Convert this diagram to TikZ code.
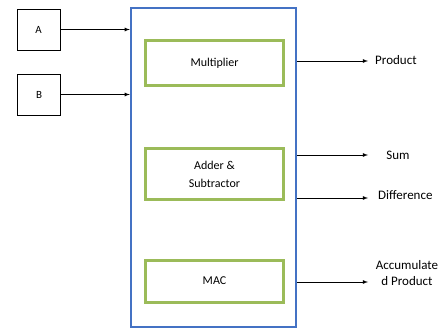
\documentclass[tikz,border=0pt]{standalone}
\usepackage{fontspec}
\setmainfont{Carlito}
\usetikzlibrary{positioning,arrows}
\definecolor{coreblue}{RGB}{68,114,196}
\definecolor{unitgreen}{RGB}{155,187,89}

\begin{document}
\begin{tikzpicture}[
x=1pt,y=-1pt,
inbox/.style={
  draw,
  line width=0.8pt,
  minimum width=43pt,
  minimum height=41pt,
  inner sep=0pt
  },
core/.style={
  draw=coreblue,
  line width=2.4pt,
  minimum width=165pt,
  minimum height=319pt
  },
unit/.style={
  draw=unitgreen,
  line width=3pt,
  minimum width=138pt,
  align=center,
  inner sep=0pt,
  font=\fontsize{12}{14}\selectfont
  },
lbl/.style={
  align=center,
  inner sep=0pt,
  font=\fontsize{13}{16}\selectfont
  },
every node/.style={font=\fontsize{11}{13}\selectfont},
>=latex
]
\useasboundingbox (0,0) rectangle (444,331);
\node[inbox] (a) at (38.5,29.5) {A};
\node[inbox] (b) at (39,94.5) {B};
\node[core] (chip) at (213.5,167.5) {};
\node[unit,minimum height=45pt] (mult) at (214.5,63) {Multiplier};
\node[unit,minimum height=51pt] (addsub) at (214.5,174) {Adder \&\\[4pt]Subtractor};
\node[unit,minimum height=42pt] (mac) at (214.5,281) {MAC};

\foreach \n in {a,b}
  \draw[->,line width=0.8pt] (\n.east) -- (chip.west |- \n.east);

% outputs
\coordinate (prodend) at (368,61);
\coordinate (sumend) at (368,155);
\coordinate (diffend) at (368,198);
\coordinate (accend) at (368,282);
\node[lbl,anchor=west] (prod) at (375,60) {Product};
\node[lbl] (sum) at (398,155) {Sum};
\node[lbl,anchor=west] (diff) at (378,195) {Difference};
\node[lbl] (acc) at (407,273) {Accumulate\\d Product};
\foreach \e in {prodend,sumend,diffend,accend}
  \draw[->,line width=0.8pt] (chip.east |- \e) -- (\e);

\end{tikzpicture}
\end{document}
